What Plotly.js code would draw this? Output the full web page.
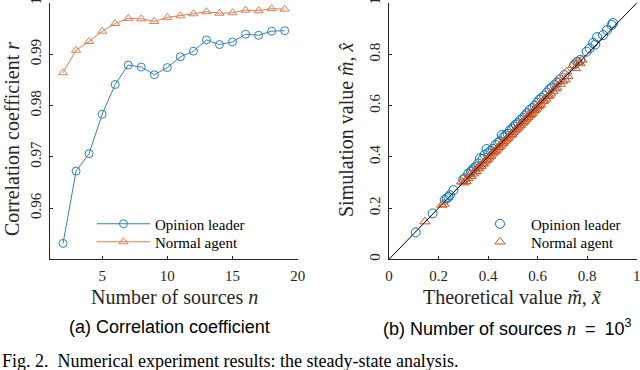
<!DOCTYPE html>
<html>
<head>
<meta charset="utf-8">
<script src="https://cdn.plot.ly/plotly-3.0.1.min.js"></script>
<style>html,body{margin:0;padding:0;background:#fff;overflow:hidden;}#plot{width:640px;height:370px;}</style>
</head>
<body>
<div id="plot"></div>
<script>
// ---- Panel (a): correlation coefficient vs number of sources ----
var sourcesN = [2,3,4,5,6,7,8,9,10,11,12,13,14,15,16,17,18,19];
var leaderR  = [0.9531,0.9672,0.9706,0.9783,0.9841,0.9879,0.9875,0.9860,0.9874,0.9895,0.9906,0.9928,0.9919,0.9924,0.9939,0.9937,0.9945,0.9946];
var normalR  = [0.9864,0.9908,0.9925,0.9945,0.9960,0.9970,0.9969,0.9964,0.9972,0.9975,0.9979,0.9983,0.9980,0.9981,0.9986,0.9985,0.9989,0.9988];
var xTicksA = [5,10,15,20];
var yTicksA = [0.96,0.97,0.98,0.99,1];
var yTickTextA = ['0.96','0.97','0.98','0.99','1'];

// ---- Panel (b): simulation vs theoretical values, n = 10^3 ----
var leaderTheo = [0.108,0.176,0.225,0.233,0.240,0.246,0.260,0.300,0.307,0.320,0.330,0.336,0.342,0.352,0.360,0.367,0.378,0.386,0.394,0.401,0.410,0.419,0.430,0.441,0.448,0.455,0.462,0.470,0.479,0.488,0.497,0.505,0.512,0.521,0.530,0.541,0.549,0.558,0.568,0.579,0.588,0.598,0.607,0.616,0.626,0.637,0.648,0.657,0.668,0.679,0.690,0.708,0.748,0.760,0.772,0.798,0.810,0.824,0.833,0.840,0.864,0.880,0.899,0.904];
var leaderSim  = [0.105,0.179,0.232,0.238,0.243,0.250,0.270,0.312,0.316,0.334,0.342,0.347,0.356,0.362,0.374,0.394,0.392,0.408,0.430,0.414,0.424,0.431,0.446,0.456,0.460,0.485,0.476,0.484,0.490,0.503,0.510,0.518,0.526,0.531,0.544,0.552,0.561,0.570,0.583,0.590,0.599,0.611,0.623,0.630,0.639,0.651,0.664,0.670,0.681,0.690,0.702,0.719,0.760,0.771,0.778,0.810,0.823,0.844,0.838,0.867,0.875,0.894,0.914,0.922];
var normalTheo = [0.145,0.213,0.222,0.293,0.302,0.311,0.318,0.326,0.331,0.340,0.346,0.351,0.356,0.362,0.366,0.371,0.377,0.381,0.387,0.391,0.396,0.402,0.406,0.411,0.417,0.421,0.426,0.431,0.437,0.441,0.446,0.452,0.456,0.461,0.466,0.472,0.476,0.481,0.486,0.492,0.496,0.501,0.507,0.511,0.516,0.522,0.526,0.531,0.537,0.541,0.546,0.552,0.556,0.561,0.567,0.571,0.576,0.582,0.586,0.591,0.597,0.601,0.607,0.612,0.621,0.626,0.632,0.641,0.646,0.652,0.661,0.671,0.677,0.683,0.691,0.702,0.711,0.717,0.722,0.743,0.752,0.763,0.771,0.779];
var normalSim  = [0.147,0.212,0.216,0.303,0.299,0.304,0.316,0.331,0.324,0.334,0.342,0.343,0.356,0.354,0.362,0.364,0.372,0.374,0.381,0.387,0.389,0.396,0.402,0.404,0.412,0.419,0.420,0.424,0.431,0.437,0.439,0.446,0.452,0.454,0.461,0.466,0.471,0.474,0.482,0.486,0.489,0.496,0.502,0.506,0.509,0.516,0.521,0.524,0.532,0.536,0.539,0.546,0.552,0.554,0.562,0.566,0.569,0.576,0.582,0.584,0.591,0.597,0.601,0.606,0.616,0.619,0.626,0.636,0.639,0.646,0.656,0.666,0.669,0.693,0.684,0.696,0.701,0.732,0.714,0.758,0.745,0.770,0.764,0.778];
var refLine = [0,1];
var xTicksB = [0,0.2,0.4,0.6,0.8,1];
var tickTextB = ['0','0.2','0.4','0.6','0.8','1'];

var serif = 'Liberation Serif, Times New Roman, serif';
var sans = 'Liberation Sans, Arial, sans-serif';
var ink = '#262626';
var blueA = '#2f80c2', orangeA = '#e27d4c';
var blueB = '#0072BD', orangeB = '#D95319';

var traces = [
  {x: sourcesN, y: leaderR, xaxis:'x', yaxis:'y', mode:'lines+markers', name:'Opinion leader', legend:'legend',
   line:{color:blueA, width:1}, marker:{symbol:'circle-open', size:8, color:blueA, line:{width:1, color:blueA}}},
  {x: sourcesN, y: normalR, xaxis:'x', yaxis:'y', mode:'lines+markers', name:'Normal agent', legend:'legend2',
   line:{color:orangeA, width:1}, marker:{symbol:'triangle-up-open', size:8, color:orangeA, line:{width:1, color:orangeA}}},
  {x: leaderTheo, y: leaderSim, xaxis:'x2', yaxis:'y2', mode:'markers', name:'Opinion leader', legend:'legend3',
   marker:{symbol:'circle-open', size:9, color:blueB, line:{width:1, color:blueB}}},
  {x: normalTheo, y: normalSim, xaxis:'x2', yaxis:'y2', mode:'markers', name:'Normal agent', legend:'legend4',
   marker:{symbol:'triangle-up-open', size:9, color:orangeB, line:{width:1, color:orangeB}}},
  {x: refLine, y: refLine, xaxis:'x2', yaxis:'y2', mode:'lines', showlegend:false, hoverinfo:'skip',
   line:{color:'#000', width:1}}
];

function axisBase(extra) {
  var a = {showline:true, linecolor:ink, linewidth:1, mirror:false, showgrid:false, zeroline:false,
           ticks:'inside', ticklen:3, tickwidth:1, tickcolor:ink, fixedrange:true, ticklabeloverflow:'allow',
           tickfont:{family:serif, size:15, color:ink}};
  for (var k in extra) a[k] = extra[k];
  return a;
}
var yDom = [(370-259.3)/370, (370-3)/370];
function legendAt(x, y, w) {
  return {x:x, y:y, xanchor:'left', yanchor:'middle', bgcolor:'rgba(0,0,0,0)', borderwidth:0,
          font:{family:serif, size:15, color:'#000'}, itemwidth:w, tracegroupgap:0};
}
function ann(text, x, y, opts) {
  var a = {text:text, x:x, y:y, xref:'paper', yref:'paper', showarrow:false, xanchor:'center', yanchor:'middle',
           font:{family:serif, size:20, color:ink}};
  for (var k in opts) a[k] = opts[k];
  return a;
}

var layout = {
  width:640, height:370, margin:{l:0, r:0, t:0, b:0, autoexpand:false},
  paper_bgcolor:'#fff', plot_bgcolor:'#fff', showlegend:true,
  xaxis: axisBase({domain:[50/640, 297.7/640], range:[1,20], tickvals:xTicksA, anchor:'y', ticklabelstandoff:3}),
  yaxis: axisBase({domain:yDom, range:[0.95,1], tickvals:yTicksA, ticktext:yTickTextA, tickangle:-90, anchor:'x', ticklabelstandoff:2}),
  xaxis2: axisBase({domain:[389/640, 636.7/640], range:[0,1], tickvals:xTicksB, ticktext:tickTextB, anchor:'y2', ticklabelstandoff:3}),
  yaxis2: axisBase({domain:yDom, range:[0,1], tickvals:xTicksB, ticktext:tickTextB, tickangle:-90, anchor:'x2', ticklabelstandoff:2}),
  legend: legendAt(92/640, (370-224)/370, 53),
  legend2: legendAt(92/640, (370-242)/370, 53),
  legend3: legendAt(469/640, (370-224)/370, 52),
  legend4: legendAt(469/640, (370-242)/370, 52),
  annotations: [
    ann('Number of sources <i>n</i>', 174/640, (370-297)/370),
    ann('Theoretical value <i>m̃</i>, <i>x̃</i>', 511.7/640, (370-297)/370),
    ann('Correlation coefficient <i>r</i>', 12/640, (370-139)/370, {textangle:-90}),
    ann('Simulation value <i>m̂</i>, <i>x̂</i>', 346/640, (370-130)/370, {textangle:-90}),
    ann('(a) Correlation coefficient', 169/640, (370-327)/370, {font:{family:sans, size:18, color:'#000'}}),
    ann('(b) Number of sources <i><span style="font-family:Liberation Serif">n</span></i>\u2002=\u200210<sup>3</sup>', 507/640, (370-327)/370, {font:{family:sans, size:18, color:'#000'}}),
    ann('Fig. 2.  Numerical experiment results: the steady-state analysis.', 0, (370-361)/370, {xanchor:'left', font:{family:serif, size:18, color:'#000'}})
  ]
};

Plotly.newPlot('plot', traces, layout, {displayModeBar:false, staticPlot:true});
</script>
</body>
</html>
